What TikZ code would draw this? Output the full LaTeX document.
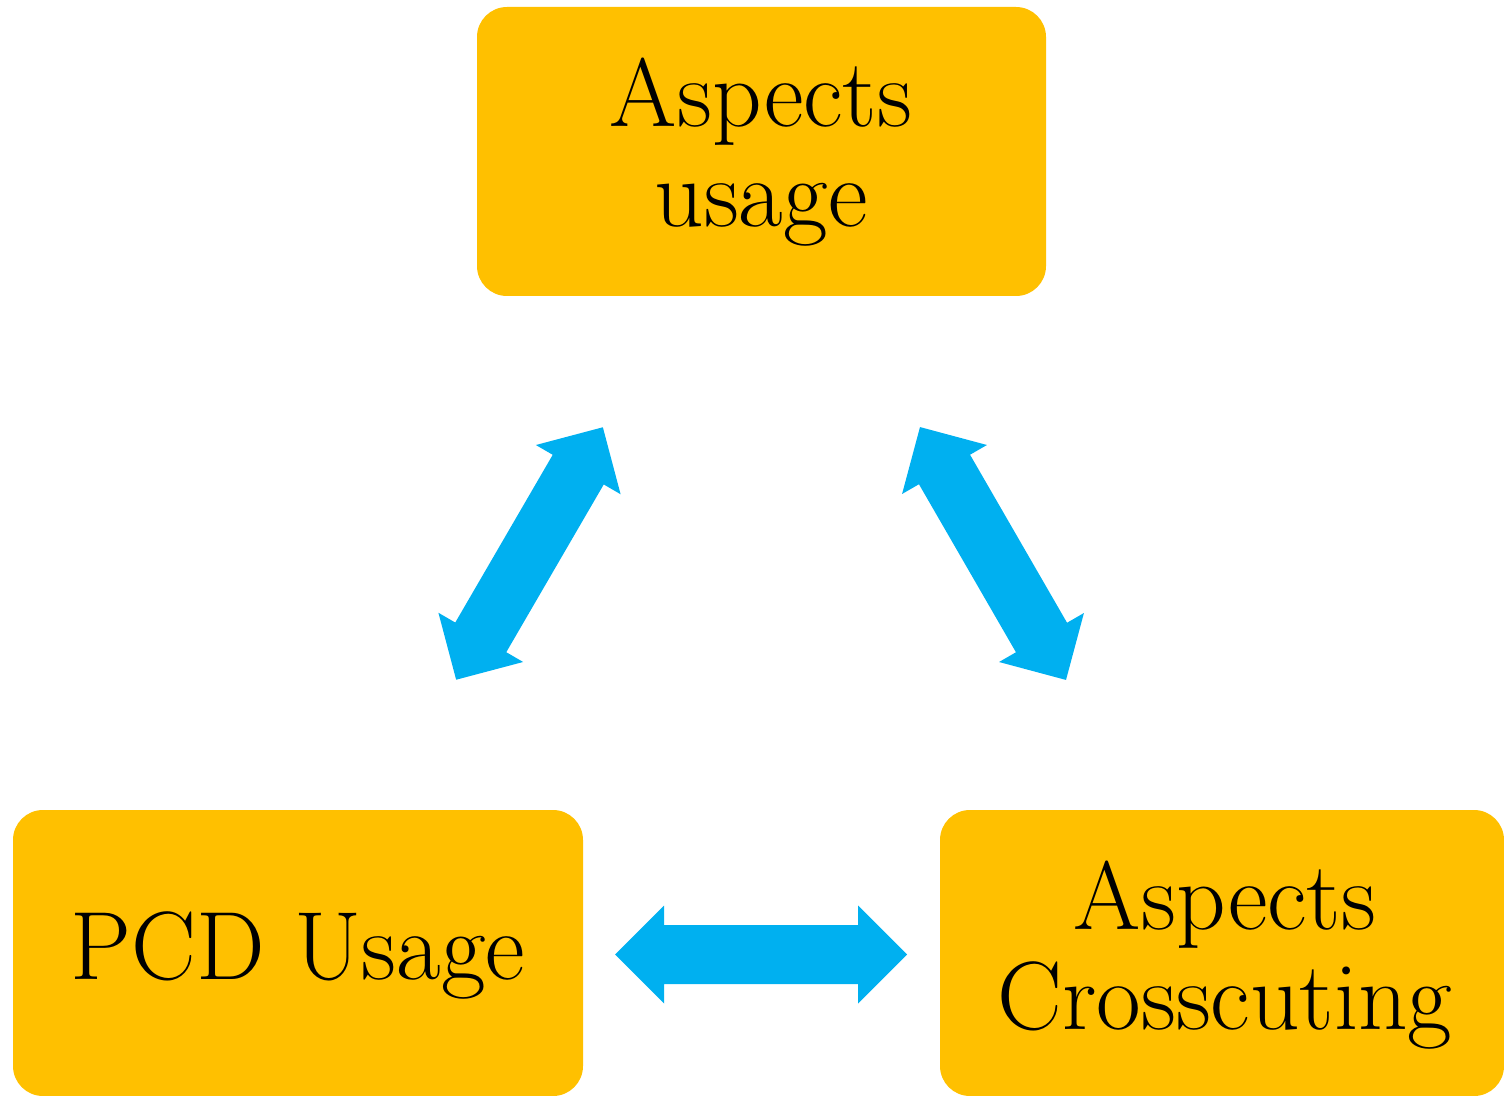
\documentclass[tikz,border=0pt]{standalone}
\usetikzlibrary{positioning}
\definecolor{boxgold}{HTML}{FFC000}
\definecolor{arrowblue}{HTML}{00B0F0}

% Double-headed block arrow: name, centre, angle (length 292, shaft 59, heads 98 wide)
\newcommand\blockarrow[3]{%
  \begin{scope}[shift={#2}, rotate=#3]
    \fill[arrowblue] (-146,0) -- (-97,49) -- (-97,29.5) -- (97,29.5) -- (97,49)
      -- (146,0) -- (97,-49) -- (97,-29.5) -- (-97,-29.5) -- (-97,-49) -- cycle;
    \coordinate (#1) at (0,0);
  \end{scope}}

\tikzset{
  goldbox/.style={fill=boxgold, rounded corners=30*0.5pt, inner sep=0pt},
  boxtext/.style={font=\fontsize{48.5}{50}\selectfont, align=center, inner sep=0pt, text=black},
}

\begin{document}
\begin{tikzpicture}[x=0.5pt, y=-0.5pt]
  \useasboundingbox (0,0) rectangle (1504,1096);

  % the three boxes
  \fill[goldbox] (477,7) rectangle (1046,296);
  \coordinate (top) at (761.5,151.5);
  \fill[goldbox] (13,810) rectangle (583,1096);
  \coordinate (left) at (298,953);
  \fill[goldbox] (940,810) rectangle (1504,1096);
  \coordinate (right) at (1222,953);

  % labels
  \node[boxtext] (toplabel) at (761,152) {Aspects\\usage};
  \node[boxtext, anchor=base] (leftlabel) at (298,979) {PCD Usage};
  \node[boxtext] (rightlabel) at (1225,955) {Aspects\\Crosscuting};

  % arrows between the boxes
  \blockarrow{arrowTL}{(529.5,553.5)}{59.84}
  \blockarrow{arrowTR}{(993,553.5)}{-60}
  \blockarrow{arrowB}{(761,954.5)}{0}
\end{tikzpicture}
\end{document}
